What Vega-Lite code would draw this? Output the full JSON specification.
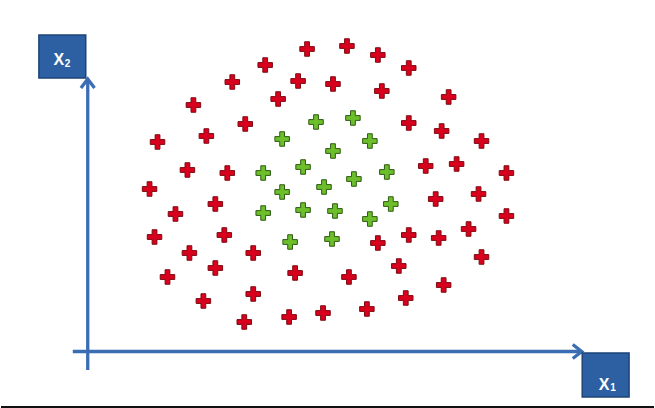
{
  "$schema": "https://vega.github.io/schema/vega-lite/v6.json",
  "width": 655,
  "height": 408,
  "padding": 0,
  "autosize": {"type": "fit", "contains": "padding"},
  "background": "white",
  "config": {"view": {"stroke": null}},
  "datasets": {
    "points": [
      {"x1": 22.0, "x2": 30.25, "cls": "red"},
      {"x1": 26.0, "x2": 30.55, "cls": "red"},
      {"x1": 29.1, "x2": 29.65, "cls": "red"},
      {"x1": 17.8, "x2": 28.65, "cls": "red"},
      {"x1": 32.2, "x2": 28.35, "cls": "red"},
      {"x1": 14.5, "x2": 26.95, "cls": "red"},
      {"x1": 21.1, "x2": 27.05, "cls": "red"},
      {"x1": 24.6, "x2": 26.75, "cls": "red"},
      {"x1": 29.5, "x2": 26.05, "cls": "red"},
      {"x1": 36.2, "x2": 25.45, "cls": "red"},
      {"x1": 19.1, "x2": 25.25, "cls": "red"},
      {"x1": 10.6, "x2": 24.65, "cls": "red"},
      {"x1": 32.2, "x2": 22.85, "cls": "red"},
      {"x1": 15.8, "x2": 22.75, "cls": "red"},
      {"x1": 11.9, "x2": 21.55, "cls": "red"},
      {"x1": 7.0, "x2": 20.95, "cls": "red"},
      {"x1": 35.5, "x2": 22.05, "cls": "red"},
      {"x1": 39.5, "x2": 21.05, "cls": "red"},
      {"x1": 10.0, "x2": 18.15, "cls": "red"},
      {"x1": 14.0, "x2": 17.85, "cls": "red"},
      {"x1": 33.9, "x2": 18.55, "cls": "red"},
      {"x1": 37.0, "x2": 18.75, "cls": "red"},
      {"x1": 42.0, "x2": 17.85, "cls": "red"},
      {"x1": 6.2, "x2": 16.25, "cls": "red"},
      {"x1": 34.9, "x2": 15.25, "cls": "red"},
      {"x1": 39.2, "x2": 15.75, "cls": "red"},
      {"x1": 12.8, "x2": 14.75, "cls": "red"},
      {"x1": 8.8, "x2": 13.75, "cls": "red"},
      {"x1": 42.0, "x2": 13.55, "cls": "red"},
      {"x1": 6.7, "x2": 11.45, "cls": "red"},
      {"x1": 13.7, "x2": 11.65, "cls": "red"},
      {"x1": 38.2, "x2": 12.25, "cls": "red"},
      {"x1": 32.2, "x2": 11.65, "cls": "red"},
      {"x1": 35.2, "x2": 11.35, "cls": "red"},
      {"x1": 29.1, "x2": 10.85, "cls": "red"},
      {"x1": 10.2, "x2": 9.85, "cls": "red"},
      {"x1": 16.6, "x2": 9.85, "cls": "red"},
      {"x1": 39.5, "x2": 9.45, "cls": "red"},
      {"x1": 12.8, "x2": 8.35, "cls": "red"},
      {"x1": 20.8, "x2": 7.85, "cls": "red"},
      {"x1": 26.2, "x2": 7.45, "cls": "red"},
      {"x1": 31.2, "x2": 8.55, "cls": "red"},
      {"x1": 8.0, "x2": 7.45, "cls": "red"},
      {"x1": 35.7, "x2": 6.65, "cls": "red"},
      {"x1": 16.6, "x2": 5.75, "cls": "red"},
      {"x1": 11.6, "x2": 5.05, "cls": "red"},
      {"x1": 31.9, "x2": 5.35, "cls": "red"},
      {"x1": 28.0, "x2": 4.25, "cls": "red"},
      {"x1": 23.6, "x2": 3.85, "cls": "red"},
      {"x1": 20.2, "x2": 3.45, "cls": "red"},
      {"x1": 15.7, "x2": 2.95, "cls": "red"},
      {"x1": 26.6, "x2": 23.35, "cls": "green"},
      {"x1": 22.9, "x2": 22.95, "cls": "green"},
      {"x1": 19.5, "x2": 21.25, "cls": "green"},
      {"x1": 28.3, "x2": 21.05, "cls": "green"},
      {"x1": 24.6, "x2": 20.05, "cls": "green"},
      {"x1": 17.6, "x2": 17.85, "cls": "green"},
      {"x1": 21.6, "x2": 18.45, "cls": "green"},
      {"x1": 30.0, "x2": 17.95, "cls": "green"},
      {"x1": 26.7, "x2": 17.25, "cls": "green"},
      {"x1": 23.7, "x2": 16.45, "cls": "green"},
      {"x1": 19.5, "x2": 15.95, "cls": "green"},
      {"x1": 30.4, "x2": 14.75, "cls": "green"},
      {"x1": 17.6, "x2": 13.85, "cls": "green"},
      {"x1": 21.6, "x2": 14.15, "cls": "green"},
      {"x1": 24.8, "x2": 14.05, "cls": "green"},
      {"x1": 28.3, "x2": 13.25, "cls": "green"},
      {"x1": 20.3, "x2": 10.95, "cls": "green"},
      {"x1": 24.5, "x2": 11.25, "cls": "green"}
    ],
    "axes": [
      {"x": 0, "y": -1.85, "xe": 0, "ye": 27.1},
      {"x": -1.5, "y": 0, "xe": 49.4, "ye": 0}
    ],
    "arrows": [
      {"arrow": "up", "o": 1, "x": -0.68, "y": 26.35},
      {"arrow": "up", "o": 2, "x": 0, "y": 27.25},
      {"arrow": "up", "o": 3, "x": 0.68, "y": 26.35},
      {"arrow": "right", "o": 1, "x": 48.65, "y": 0.7},
      {"arrow": "right", "o": 2, "x": 49.55, "y": 0},
      {"arrow": "right", "o": 3, "x": 48.65, "y": -0.7}
    ],
    "boxes": [
      {"x": -4.9, "y": 31.65, "xe": -0.2, "ye": 27.35},
      {"x": 49.6, "y": -0.15, "xe": 54.3, "ye": -4.55}
    ],
    "letters": [
      {"t": "X", "x": -2.9, "y": 28.65},
      {"t": "X", "x": 51.8, "y": -3.85}
    ],
    "subs": [
      {"t": "2", "x": -2.3, "y": 28.5},
      {"t": "1", "x": 52.4, "y": -3.95}
    ],
    "frame": [
      {"x": -8.7, "xe": 56.8, "y": -5.55}
    ]
  },
  "layer": [
    {
      "data": {"name": "axes"},
      "mark": {"type": "rule", "color": "#3B6DB3", "strokeWidth": 3.3},
      "encoding": {
        "x": {"field": "x", "type": "quantitative", "scale": {"domain": [-8.7, 56.8], "nice": false, "zero": false}, "axis": null},
        "y": {"field": "y", "type": "quantitative", "scale": {"domain": [-5.65, 35.15], "nice": false, "zero": false}, "axis": null},
        "x2": {"field": "xe"},
        "y2": {"field": "ye"}
      }
    },
    {
      "data": {"name": "arrows"},
      "mark": {"type": "line", "color": "#3B6DB3", "strokeWidth": 3.3, "strokeJoin": "miter", "strokeCap": "butt"},
      "encoding": {
        "x": {"field": "x", "type": "quantitative"},
        "y": {"field": "y", "type": "quantitative"},
        "detail": {"field": "arrow"},
        "order": {"field": "o"}
      }
    },
    {
      "data": {"name": "frame"},
      "mark": {"type": "rule", "color": "#111111", "strokeWidth": 2},
      "encoding": {
        "x": {"field": "x", "type": "quantitative"},
        "x2": {"field": "xe"},
        "y": {"field": "y", "type": "quantitative"}
      }
    },
    {
      "data": {"name": "boxes"},
      "mark": {"type": "rect", "fill": "#2D5FA3", "stroke": "#1D4478", "strokeWidth": 1.5},
      "encoding": {
        "x": {"field": "x", "type": "quantitative"},
        "x2": {"field": "xe"},
        "y": {"field": "y", "type": "quantitative"},
        "y2": {"field": "ye"}
      }
    },
    {
      "data": {"name": "letters"},
      "mark": {"type": "text", "color": "white", "font": "Liberation Sans", "fontWeight": "bold", "fontSize": 16, "align": "center", "baseline": "alphabetic"},
      "encoding": {
        "x": {"field": "x", "type": "quantitative"},
        "y": {"field": "y", "type": "quantitative"},
        "text": {"field": "t"}
      }
    },
    {
      "data": {"name": "subs"},
      "mark": {"type": "text", "color": "white", "font": "Liberation Sans", "fontWeight": "bold", "fontSize": 10, "align": "left", "baseline": "alphabetic"},
      "encoding": {
        "x": {"field": "x", "type": "quantitative"},
        "y": {"field": "y", "type": "quantitative"},
        "text": {"field": "t"}
      }
    },
    {
      "data": {"name": "points"},
      "mark": {"type": "point", "filled": true, "opacity": 1, "strokeWidth": 1, "size": 210, "shape": "M-0.33,-1H0.33V-0.33H1V0.33H0.33V1H-0.33V0.33H-1V-0.33H-0.33Z"},
      "encoding": {
        "x": {"field": "x1", "type": "quantitative"},
        "y": {"field": "x2", "type": "quantitative"},
        "fill": {"field": "cls", "type": "nominal", "scale": {"domain": ["red", "green"], "range": ["#D8001C", "#6CBF2A"]}, "legend": null},
        "stroke": {"field": "cls", "type": "nominal", "scale": {"domain": ["red", "green"], "range": ["#7E0A12", "#2F5A12"]}, "legend": null}
      }
    }
  ]
}
